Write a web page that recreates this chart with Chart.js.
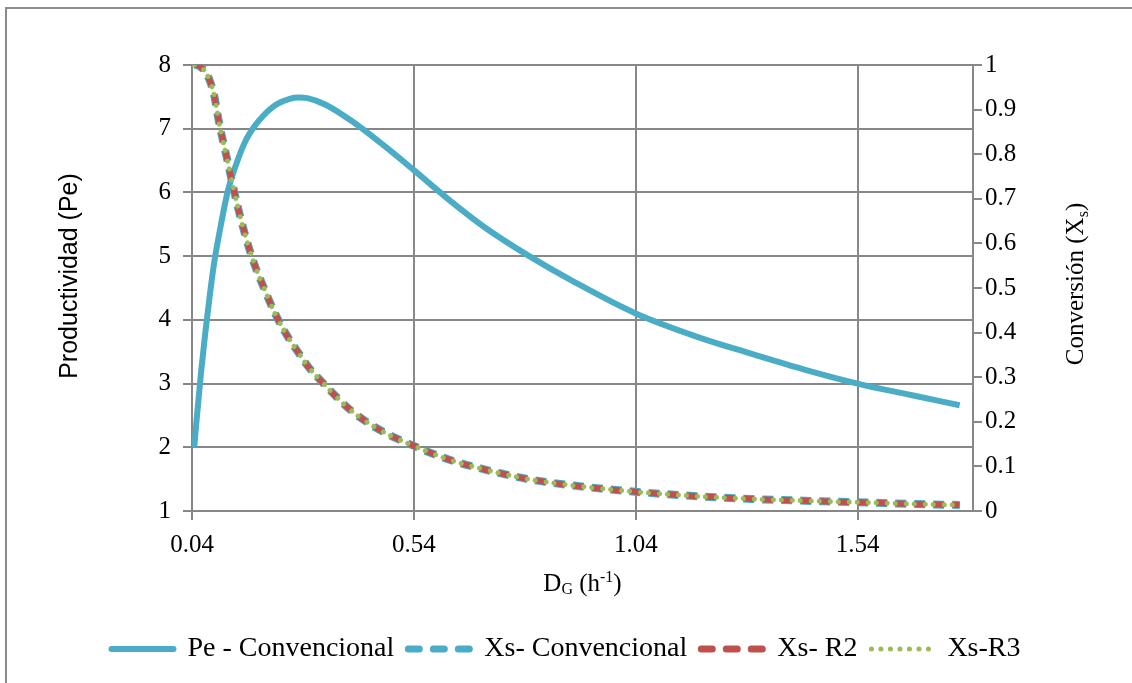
<!DOCTYPE html>
<html>
<head>
<meta charset="utf-8">
<script src="https://cdn.jsdelivr.net/npm/chart.js@4.4.0/dist/chart.umd.min.js"></script>
<style>
html, body { margin: 0; padding: 0; background: #fff; }
#wrap { width: 1132px; height: 683px; }
</style>
</head>
<body>
<div id="wrap"><canvas id="chart" width="1132" height="683"></canvas></div>
<script>
// dilution rate D_G (h^-1)
const dValues = [0.045, 0.05, 0.06, 0.07, 0.08, 0.09, 0.10, 0.12, 0.14, 0.16, 0.18, 0.20, 0.23, 0.26, 0.28, 0.30,
  0.34, 0.40, 0.47, 0.54, 0.62, 0.70, 0.80, 0.90, 1.04, 1.18, 1.30, 1.42, 1.54, 1.66, 1.77];

// productividad (left axis)
const peValues = [2.0, 2.4, 3.15, 3.8, 4.38, 4.9, 5.3, 6.0, 6.45, 6.8, 7.03, 7.2, 7.38, 7.47, 7.49, 7.48,
  7.38, 7.12, 6.75, 6.35, 5.88, 5.45, 5.0, 4.6, 4.1, 3.73, 3.47, 3.22, 3.0, 2.82, 2.66];

// conversion (right axis) - the three curves lie on top of each other
const xsConv = [1.0, 1.0, 0.995, 0.985, 0.965, 0.932, 0.876, 0.785, 0.695, 0.618, 0.555, 0.505, 0.437, 0.384, 0.355, 0.326,
  0.282, 0.224, 0.178, 0.146, 0.115, 0.093, 0.071, 0.057, 0.043, 0.033, 0.027, 0.023, 0.0195, 0.016, 0.0135];
const xsR2 = [1.0, 1.0, 0.995, 0.985, 0.965, 0.932, 0.876, 0.785, 0.695, 0.618, 0.555, 0.505, 0.437, 0.384, 0.355, 0.326,
  0.282, 0.224, 0.178, 0.146, 0.115, 0.093, 0.071, 0.057, 0.043, 0.033, 0.027, 0.023, 0.0195, 0.016, 0.0135];
const xsR3 = [1.0, 1.0, 0.995, 0.985, 0.965, 0.932, 0.876, 0.785, 0.695, 0.618, 0.555, 0.505, 0.437, 0.384, 0.355, 0.326,
  0.282, 0.224, 0.178, 0.146, 0.115, 0.093, 0.071, 0.057, 0.043, 0.033, 0.027, 0.023, 0.0195, 0.016, 0.0135];

const xTickValues = [0.04, 0.54, 1.04, 1.54];

const serif = '"Liberation Serif", "Times New Roman", serif';
const sans = '"Liberation Sans", Arial, sans-serif';
const gridColor = '#878787';

const toPoints = ys => dValues.map((d, i) => ({ x: d, y: ys[i] }));

// draws text with sub/superscript parts, centred on x
function drawRich(ctx, parts, x, y, size, family) {
  const fontFor = p => (p.small ? Math.round(size * 0.62) : size) + 'px ' + family;
  let total = 0;
  parts.forEach(p => { ctx.font = fontFor(p); total += ctx.measureText(p.t).width; });
  let cx = x - total / 2;
  parts.forEach(p => {
    ctx.font = fontFor(p);
    ctx.fillText(p.t, cx, y + (p.dy || 0) * size);
    cx += ctx.measureText(p.t).width;
  });
}

const titlesPlugin = {
  id: 'titlesPlugin',
  afterDraw(chart) {
    const ctx = chart.ctx;
    const area = chart.chartArea;
    ctx.save();
    // outer frame
    ctx.strokeStyle = '#8c8c8c';
    ctx.lineWidth = 2;
    ctx.strokeRect(6, 8, 1140, 700);

    ctx.fillStyle = '#000';
    ctx.textAlign = 'left';
    ctx.textBaseline = 'alphabetic';

    // x title
    drawRich(ctx, [
      { t: 'D' }, { t: 'G', small: true, dy: 0.12 }, { t: ' (h' }, { t: '-1', small: true, dy: -0.38 }, { t: ')' }
    ], (area.left + area.right) / 2, 591, 25, serif);

    // left title
    ctx.save();
    ctx.translate(70, 276);
    ctx.rotate(-Math.PI / 2);
    ctx.textAlign = 'center';
    ctx.textBaseline = 'middle';
    ctx.font = '25px ' + sans;
    ctx.fillText('Productividad (Pe)', 0, 0);
    ctx.restore();

    // right title
    ctx.save();
    ctx.translate(1083, 284);
    ctx.rotate(-Math.PI / 2);
    drawRich(ctx, [{ t: 'Conversión (X' }, { t: 's', small: true, dy: 0.2 }, { t: ')' }], 0, 0, 25, serif);
    ctx.restore();

    ctx.restore();
  }
};

const tickFont = { family: serif, size: 25 };

// legend samples get their own dash, the point style would drop it
function legendLabels(chart) {
  const items = Chart.defaults.plugins.legend.labels.generateLabels(chart);
  items.forEach(item => {
    const ds = chart.data.datasets[item.datasetIndex];
    item.lineDash = ds.legendDash || [];
    item.lineCap = ds.legendCap || 'butt';
    item.lineWidth = ds.legendWidth;
    item.strokeStyle = ds.borderColor;
  });
  return items.sort((a, b) => a.datasetIndex - b.datasetIndex);
}

new Chart(document.getElementById('chart'), {
  type: 'line',
  data: {
    datasets: [
      {
        label: 'Pe - Convencional',
        data: toPoints(peValues),
        yAxisID: 'yPe',
        borderColor: '#4bacc6',
        borderWidth: 6,
        legendWidth: 6,
        legendCap: 'round',
        order: 4
      },
      {
        label: 'Xs- Convencional',
        data: toPoints(xsConv),
        yAxisID: 'yXs',
        borderColor: '#4bacc6',
        borderWidth: 8,
        borderDash: [11, 8],
        legendWidth: 7,
        legendDash: [11, 14],
        legendCap: 'round',
        order: 3
      },
      {
        label: 'Xs- R2',
        data: toPoints(xsR2),
        yAxisID: 'yXs',
        borderColor: '#c0504d',
        borderWidth: 6,
        borderDash: [11, 8],
        legendWidth: 7,
        legendDash: [11, 14],
        legendCap: 'round',
        order: 2
      },
      {
        label: 'Xs-R3',
        data: toPoints(xsR3),
        yAxisID: 'yXs',
        borderColor: '#9bbb59',
        borderWidth: 5,
        borderDash: [0.1, 10.9, 0.1, 7.9],
        borderCapStyle: 'round',
        legendWidth: 5,
        legendDash: [0.1, 9.4],
        legendCap: 'round',
        order: 1
      }
    ]
  },
  options: {
    responsive: false,
    animation: false,
    events: [],
    layout: { padding: { top: 65, left: 0, right: 0, bottom: 10 } },
    elements: {
      point: { radius: 0 },
      line: { cubicInterpolationMode: 'monotone', fill: false }
    },
    plugins: {
      tooltip: { enabled: false },
      legend: {
        position: 'bottom',
        labels: {
          usePointStyle: true,
          pointStyle: 'line',
          pointStyleWidth: 62,
          boxHeight: 10,
          padding: 14,
          color: '#000',
          font: { family: serif, size: 28 },
          generateLabels: legendLabels
        }
      }
    },
    scales: {
      x: {
        type: 'linear',
        min: 0.04,
        max: 1.8,
        afterBuildTicks: s => { s.ticks = xTickValues.map(v => ({ value: v })); },
        afterFit: s => { s.height = 110; },
        ticks: { autoSkip: false, maxRotation: 0, padding: 10, color: '#000', font: tickFont,
          callback: v => v.toFixed(2) },
        grid: { color: gridColor, lineWidth: 2, tickLength: 9 },
        border: { color: gridColor, width: 2 }
      },
      yPe: {
        position: 'left',
        min: 1,
        max: 8,
        afterFit: s => { s.width = 192; },
        ticks: { stepSize: 1, padding: 12, color: '#000', font: tickFont },
        grid: { color: gridColor, lineWidth: 2, tickLength: 9 },
        border: { color: gridColor, width: 2 }
      },
      yXs: {
        position: 'right',
        min: 0,
        max: 1,
        afterFit: s => { s.width = 159; },
        ticks: { stepSize: 0.1, padding: 3, color: '#000', font: tickFont,
          callback: v => String(+v.toFixed(1)) },
        grid: { drawOnChartArea: false, color: gridColor, lineWidth: 2, tickLength: 9 },
        border: { color: gridColor, width: 2 }
      }
    }
  },
  plugins: [titlesPlugin]
});
</script>
</body>
</html>
